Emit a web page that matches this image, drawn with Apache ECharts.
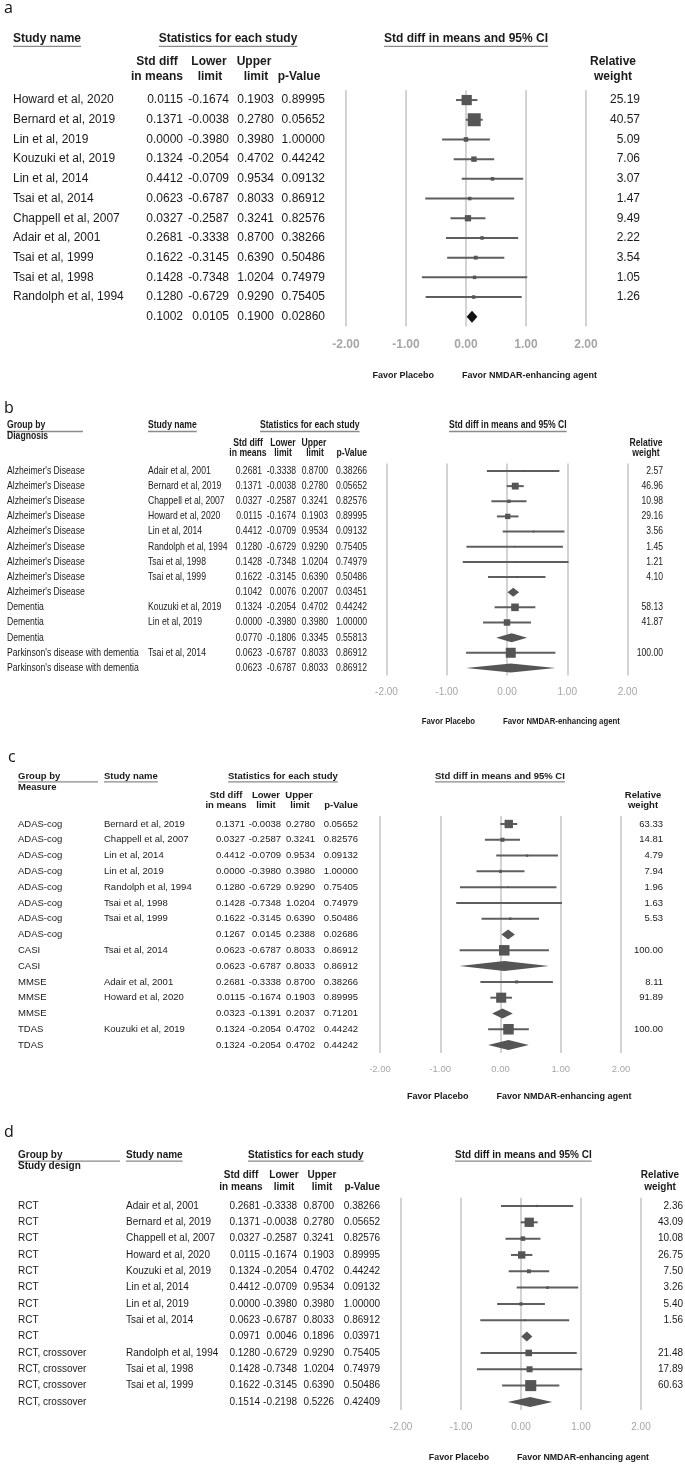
<!DOCTYPE html>
<html><head><meta charset="utf-8">
<script src="https://cdn.jsdelivr.net/npm/echarts@6/dist/echarts.min.js"></script>
<style>html,body{margin:0;padding:0;background:#fff}#c{width:685px;height:1464px}</style>
</head><body><div id="c"></div><script>
// ---------------- DATA ----------------
const tickLabels = ['-2.00', '-1.00', '0.00', '1.00', '2.00'];
const favorLabels = ['Favor Placebo', 'Favor NMDAR-enhancing agent'];

// Panel a (overall)
const aStudies = ['Howard et al, 2020','Bernard et al, 2019','Lin et al, 2019','Kouzuki et al, 2019','Lin et al, 2014','Tsai et al, 2014','Chappell et al, 2007','Adair et al, 2001','Tsai et al, 1999','Tsai et al, 1998','Randolph et al, 1994',''];
const aSmd = [0.0115,0.1371,0.0000,0.1324,0.4412,0.0623,0.0327,0.2681,0.1622,0.1428,0.1280,0.1002];
const aLower = [-0.1674,-0.0038,-0.3980,-0.2054,-0.0709,-0.6787,-0.2587,-0.3338,-0.3145,-0.7348,-0.6729,0.0105];
const aUpper = [0.1903,0.2780,0.3980,0.4702,0.9534,0.8033,0.3241,0.8700,0.6390,1.0204,0.9290,0.1900];
const aP = ['0.89995','0.05652','1.00000','0.44242','0.09132','0.86912','0.82576','0.38266','0.50486','0.74979','0.75405','0.02860'];
const aWeight = ['25.19','40.57','5.09','7.06','3.07','1.47','9.49','2.22','3.54','1.05','1.26',''];

// Panel b (by diagnosis)
const bGroups = ["Alzheimer's Disease","Alzheimer's Disease","Alzheimer's Disease","Alzheimer's Disease","Alzheimer's Disease","Alzheimer's Disease","Alzheimer's Disease","Alzheimer's Disease","Alzheimer's Disease",'Dementia','Dementia','Dementia',"Parkinson's disease with dementia","Parkinson's disease with dementia"];
const bStudies = ['Adair et al, 2001','Bernard et al, 2019','Chappell et al, 2007','Howard et al, 2020','Lin et al, 2014','Randolph et al, 1994','Tsai et al, 1998','Tsai et al, 1999','','Kouzuki et al, 2019','Lin et al, 2019','','Tsai et al, 2014',''];
const bSmd = [0.2681,0.1371,0.0327,0.0115,0.4412,0.1280,0.1428,0.1622,0.1042,0.1324,0.0000,0.0770,0.0623,0.0623];
const bLower = [-0.3338,-0.0038,-0.2587,-0.1674,-0.0709,-0.6729,-0.7348,-0.3145,0.0076,-0.2054,-0.3980,-0.1806,-0.6787,-0.6787];
const bUpper = [0.8700,0.2780,0.3241,0.1903,0.9534,0.9290,1.0204,0.6390,0.2007,0.4702,0.3980,0.3345,0.8033,0.8033];
const bP = ['0.38266','0.05652','0.82576','0.89995','0.09132','0.75405','0.74979','0.50486','0.03451','0.44242','1.00000','0.55813','0.86912','0.86912'];
const bWeight = ['2.57','46.96','10.98','29.16','3.56','1.45','1.21','4.10','','58.13','41.87','','100.00',''];

// Panel c (by measure)
const cGroups = ['ADAS-cog','ADAS-cog','ADAS-cog','ADAS-cog','ADAS-cog','ADAS-cog','ADAS-cog','ADAS-cog','CASI','CASI','MMSE','MMSE','MMSE','TDAS','TDAS'];
const cStudies = ['Bernard et al, 2019','Chappell et al, 2007','Lin et al, 2014','Lin et al, 2019','Randolph et al, 1994','Tsai et al, 1998','Tsai et al, 1999','','Tsai et al, 2014','','Adair et al, 2001','Howard et al, 2020','','Kouzuki et al, 2019',''];
const cSmd = [0.1371,0.0327,0.4412,0.0000,0.1280,0.1428,0.1622,0.1267,0.0623,0.0623,0.2681,0.0115,0.0323,0.1324,0.1324];
const cLower = [-0.0038,-0.2587,-0.0709,-0.3980,-0.6729,-0.7348,-0.3145,0.0145,-0.6787,-0.6787,-0.3338,-0.1674,-0.1391,-0.2054,-0.2054];
const cUpper = [0.2780,0.3241,0.9534,0.3980,0.9290,1.0204,0.6390,0.2388,0.8033,0.8033,0.8700,0.1903,0.2037,0.4702,0.4702];
const cP = ['0.05652','0.82576','0.09132','1.00000','0.75405','0.74979','0.50486','0.02686','0.86912','0.86912','0.38266','0.89995','0.71201','0.44242','0.44242'];
const cWeight = ['63.33','14.81','4.79','7.94','1.96','1.63','5.53','','100.00','','8.11','91.89','','100.00',''];

// Panel d (by study design)
const dGroups = ['RCT','RCT','RCT','RCT','RCT','RCT','RCT','RCT','RCT','RCT, crossover','RCT, crossover','RCT, crossover','RCT, crossover'];
const dStudies = ['Adair et al, 2001','Bernard et al, 2019','Chappell et al, 2007','Howard et al, 2020','Kouzuki et al, 2019','Lin et al, 2014','Lin et al, 2019','Tsai et al, 2014','','Randolph et al, 1994','Tsai et al, 1998','Tsai et al, 1999',''];
const dSmd = [0.2681,0.1371,0.0327,0.0115,0.1324,0.4412,0.0000,0.0623,0.0971,0.1280,0.1428,0.1622,0.1514];
const dLower = [-0.3338,-0.0038,-0.2587,-0.1674,-0.2054,-0.0709,-0.3980,-0.6787,0.0046,-0.6729,-0.7348,-0.3145,-0.2198];
const dUpper = [0.8700,0.2780,0.3241,0.1903,0.4702,0.9534,0.3980,0.8033,0.1896,0.9290,1.0204,0.6390,0.5226];
const dP = ['0.38266','0.05652','0.82576','0.89995','0.44242','0.09132','1.00000','0.86912','0.03971','0.75405','0.74979','0.50486','0.42409'];
const dWeight = ['2.36','43.09','10.08','26.75','7.50','3.26','5.40','1.56','','21.48','17.89','60.63',''];

// ---------------- FONTS ----------------
const FONT = '"Liberation Sans", Arial, sans-serif';
const mctx = document.createElement('canvas').getContext('2d');
const narrowOK = (function(){
  mctx.font = '20px "Liberation Sans Narrow", monospace';
  const a = mctx.measureText('abcdefghijklmnopqrst').width;
  mctx.font = '20px monospace';
  const b = mctx.measureText('abcdefghijklmnopqrst').width;
  return Math.abs(a - b) > 0.5;
})();
const NARROW = narrowOK ? '"Liberation Sans Narrow", "Liberation Sans", sans-serif' : FONT;
const NSX = narrowOK ? 1 : 0.82;

function measure(s, ff, fs, fw) { mctx.font = (fw || 'normal') + ' ' + fs + 'px ' + ff; return mctx.measureText(s).width; }

// ---------------- LAYOUT ----------------
const panels = [
  { letter: 'a', letterPos: [4, 8],
    data: { group: null, study: aStudies, smd: aSmd, lo: aLower, hi: aUpper, p: aP, w: aWeight },
    left: 346, width: 240, top: 90.2, rowH: 19.7,
    ff: FONT, fs: 12, sx: 1, hff: FONT, hfs: 12, hsx: 1,
    cols: { grp: null, study: 13, smd: 183, lo: 229, hi: 274, p: 325, w: 640 },
    k: 2.04, minSq: 3.5, diaH: 12, diaC: '#111111', lineW: 2,
    tick: { ff: FONT, fs: 12, fw: 'bold', y: 345 }, favorY: 376, favorFs: 9, favorFf: FONT, favorSx: 1,
    headers: [
      ['Study name', 13, 39, 'left', true], ['Statistics for each study', 228, 39, 'center', true],
      ['Std diff in means and 95% CI', 466, 39, 'center', true],
      ['Std diff', 157, 62, 'center'], ['in means', 157, 77, 'center'], ['Lower', 209, 62, 'center'], ['limit', 210, 77, 'center'],
      ['Upper', 254, 62, 'center'], ['limit', 256, 77, 'center'], ['p-Value', 299, 77, 'center'],
      ['Relative', 613, 62, 'center'], ['weight', 613, 77, 'center']
    ] },
  { letter: 'b', letterPos: [4, 408],
    data: { group: bGroups, study: bStudies, smd: bSmd, lo: bLower, hi: bUpper, p: bP, w: bWeight },
    left: 386.5, width: 241, top: 463.4, rowH: 15.15,
    ff: NARROW, fs: 10.5, sx: NSX, hff: NARROW, hfs: 10.5, hsx: NSX,
    cols: { grp: 7, study: 148, smd: 262, lo: 296, hi: 328, p: 367, w: 663 },
    k: 1.0, minSq: 1.5, diaH: 9, diaC: '#555555', lineW: 2,
    tick: { ff: NARROW, fs: 10, fw: 'normal', y: 692 }, favorY: 721, favorFs: 9.5, favorFf: NARROW, favorSx: NSX,
    headers: [
      ['Group by', 7, 425, 'left', true, 83], ['Diagnosis', 7, 436, 'left'], ['Study name', 148, 425, 'left', true],
      ['Statistics for each study', 260, 425, 'left', true], ['Std diff in means and 95% CI', 449, 425, 'left', true],
      ['Std diff', 248, 443, 'center'], ['in means', 248, 453, 'center'], ['Lower', 283, 443, 'center'], ['limit', 283, 453, 'center'],
      ['Upper', 314, 443, 'center'], ['limit', 315, 453, 'center'], ['p-Value', 367, 453, 'right'],
      ['Relative', 646, 443, 'center'], ['weight', 646, 453, 'center']
    ] },
  { letter: 'c', letterPos: [8, 757],
    data: { group: cGroups, study: cStudies, smd: cSmd, lo: cLower, hi: cUpper, p: cP, w: cWeight },
    left: 380, width: 241, top: 816.1, rowH: 15.79,
    ff: FONT, fs: 9.5, sx: 1, hff: FONT, hfs: 9.5, hsx: 1,
    cols: { grp: 18, study: 104, smd: 245, lo: 281, hi: 315, p: 358, w: 663 },
    k: 1.05, minSq: 1.5, diaH: 10, diaC: '#555555', lineW: 2,
    tick: { ff: FONT, fs: 9.5, fw: 'normal', y: 1069 }, favorY: 1097, favorFs: 9, favorFf: FONT, favorSx: 1,
    headers: [
      ['Group by', 18, 776, 'left', true, 98], ['Measure', 18, 787, 'left'], ['Study name', 104, 776, 'left', true],
      ['Statistics for each study', 228, 776, 'left', true], ['Std diff in means and 95% CI', 435, 776, 'left', true],
      ['Std diff', 226, 795, 'center'], ['in means', 226, 805, 'center'], ['Lower', 266, 795, 'center'], ['limit', 266, 805, 'center'],
      ['Upper', 299, 795, 'center'], ['limit', 300, 805, 'center'], ['p-Value', 358, 805, 'right'],
      ['Relative', 643, 795, 'center'], ['weight', 643, 805, 'center']
    ] },
  { letter: 'd', letterPos: [4, 1132],
    data: { group: dGroups, study: dStudies, smd: dSmd, lo: dLower, hi: dUpper, p: dP, w: dWeight },
    left: 401, width: 240, top: 1197.8, rowH: 16.33,
    ff: FONT, fs: 10, sx: 1, hff: FONT, hfs: 10, hsx: 1,
    cols: { grp: 18, study: 126, smd: 260, lo: 297, hi: 334, p: 380, w: 683 },
    k: 1.42, minSq: 1.5, diaH: 10, diaC: '#555555', lineW: 2,
    tick: { ff: FONT, fs: 10, fw: 'normal', y: 1427 }, favorY: 1458, favorFs: 8.8, favorFf: FONT, favorSx: 1,
    headers: [
      ['Group by', 18, 1155, 'left', true, 120], ['Study design', 18, 1166, 'left'], ['Study name', 126, 1155, 'left', true],
      ['Statistics for each study', 248, 1155, 'left', true], ['Std diff in means and 95% CI', 455, 1155, 'left', true],
      ['Std diff', 241, 1175, 'center'], ['in means', 241, 1187, 'center'], ['Lower', 284, 1175, 'center'], ['limit', 284, 1187, 'center'],
      ['Upper', 322, 1175, 'center'], ['limit', 322, 1187, 'center'], ['p-Value', 380, 1187, 'right'],
      ['Relative', 660, 1175, 'center'], ['weight', 660, 1187, 'center']
    ] }
];

// ---------------- BUILD ----------------
const grids = [], xAxes = [], yAxes = [], series = [], graphics = [];

function textEl(s, x, y, o) {
  return { type: 'text', x: x, y: y, scaleX: o.sx || 1, z: 10, silent: true,
    style: { text: s, fontFamily: o.ff, fontSize: o.fs, fontWeight: o.fw || 'normal', fill: o.c || '#1a1a1a',
      align: o.al || 'left', verticalAlign: 'middle',
      width: o.width, overflow: o.width ? 'truncate' : undefined, ellipsis: '' } };
}

panels.forEach(function (cfg, i) {
  const d = cfg.data, n = d.smd.length;
  grids.push({ left: cfg.left, width: cfg.width, top: cfg.top, height: cfg.rowH * n });
  const gridBottom = cfg.top + cfg.rowH * n;
  xAxes.push({ gridIndex: i, type: 'value', min: -2, max: 2, interval: 1,
    axisLine: { show: false }, axisTick: { show: false },
    splitLine: { show: true, lineStyle: { color: '#c4c4c4', width: 1.5 } },
    axisLabel: { formatter: function (v) { return tickLabels[Math.round(v) + 2]; }, color: '#a6a6a6',
      fontFamily: cfg.tick.ff, fontSize: cfg.tick.fs, fontWeight: cfg.tick.fw, verticalAlign: 'middle',
      margin: cfg.tick.y - gridBottom } });
  yAxes.push({ gridIndex: i, type: 'value', min: -0.5, max: n - 0.5, inverse: true, show: false });

  // marks
  series.push({ type: 'custom', xAxisIndex: i, yAxisIndex: i, clip: false, z: 5,
    data: d.smd.map(function (v, r) { return [v, r, d.lo[r], d.hi[r], parseFloat(d.w[r]) || 0, d.study[r] === '' ? 1 : 0]; }),
    encode: { x: [0, 2, 3], y: 1 },
    renderItem: function (params, api) {
      const est = api.value(0), row = api.value(1), lo = api.value(2), hi = api.value(3), w = api.value(4), sm = api.value(5);
      const pe = api.coord([est, row]), pl = api.coord([lo, row]), ph = api.coord([hi, row]);
      const y = pe[1];
      if (sm) {
        const h = cfg.diaH / 2;
        return { type: 'polygon', shape: { points: [[pl[0], y], [pe[0], y - h], [ph[0], y], [pe[0], y + h]] }, style: { fill: cfg.diaC } };
      }
      const s = Math.max(cfg.minSq, cfg.k * Math.sqrt(w));
      return { type: 'group', children: [
        { type: 'line', shape: { x1: pl[0], y1: y, x2: ph[0], y2: y }, style: { stroke: '#5e5e5e', lineWidth: cfg.lineW } },
        { type: 'rect', shape: { x: pe[0] - s / 2, y: y - s / 2, width: s, height: s }, style: { fill: '#555555' } }
      ] };
    } });

  // table text
  series.push({ type: 'custom', xAxisIndex: i, yAxisIndex: i, clip: false, z: 6, silent: true,
    data: d.smd.map(function (v, r) { return [0, r]; }),
    encode: { x: 0, y: 1 },
    renderItem: function (params, api) {
      const r = params.dataIndex;
      const y = api.coord([0, r])[1];
      const o = { ff: cfg.ff, fs: cfg.fs, sx: cfg.sx };
      const ch = [];
      if (d.group) ch.push(textEl(d.group[r], cfg.cols.grp, y, Object.assign({}, o, { width: (cfg.cols.study - cfg.cols.grp - 3) / cfg.sx })));
      ch.push(textEl(d.study[r], cfg.cols.study, y, o));
      ch.push(textEl(d.smd[r].toFixed(4), cfg.cols.smd, y, Object.assign({}, o, { al: 'right' })));
      ch.push(textEl(d.lo[r].toFixed(4), cfg.cols.lo, y, Object.assign({}, o, { al: 'right' })));
      ch.push(textEl(d.hi[r].toFixed(4), cfg.cols.hi, y, Object.assign({}, o, { al: 'right' })));
      ch.push(textEl(d.p[r], cfg.cols.p, y, Object.assign({}, o, { al: 'right' })));
      ch.push(textEl(d.w[r], cfg.cols.w, y, Object.assign({}, o, { al: 'right' })));
      return { type: 'group', children: ch };
    } });

  // panel letter
  graphics.push(textEl(cfg.letter, cfg.letterPos[0], cfg.letterPos[1], { ff: '"Open Sans", "Liberation Sans", sans-serif', fs: 16, c: '#111' }));
  // headers
  cfg.headers.forEach(function (h) {
    const o = { ff: cfg.hff, fs: cfg.hfs, sx: cfg.hsx, fw: 'bold', al: h[3], c: '#1a1a1a' };
    graphics.push(textEl(h[0], h[1], h[2], o));
    if (h[4]) {
      const w = measure(h[0], cfg.hff, cfg.hfs, 'bold') * cfg.hsx;
      const x0 = h[3] === 'left' ? h[1] : (h[3] === 'center' ? h[1] - w / 2 : h[1] - w);
      const x1 = h[5] ? h[5] : x0 + w;
      const yy = h[2] + cfg.hfs * 0.62;
      graphics.push({ type: 'line', silent: true, shape: { x1: x0, y1: yy, x2: x1, y2: yy }, style: { stroke: '#8a8a8a', lineWidth: 1.3 } });
    }
  });
  // favor labels
  const zeroX = cfg.left + cfg.width / 2;
  graphics.push(textEl(favorLabels[0], zeroX - 32, cfg.favorY, { ff: cfg.favorFf, fs: cfg.favorFs, sx: cfg.favorSx, fw: 'bold', al: 'right' }));
  graphics.push(textEl(favorLabels[1], zeroX - 4, cfg.favorY, { ff: cfg.favorFf, fs: cfg.favorFs, sx: cfg.favorSx, fw: 'bold', al: 'left' }));
});

const chart = echarts.init(document.getElementById('c'), null, { renderer: 'canvas' });
chart.setOption({
  animation: false,
  backgroundColor: '#ffffff',
  grid: grids, xAxis: xAxes, yAxis: yAxes, series: series,
  graphic: { elements: graphics }
});
</script></body></html>
